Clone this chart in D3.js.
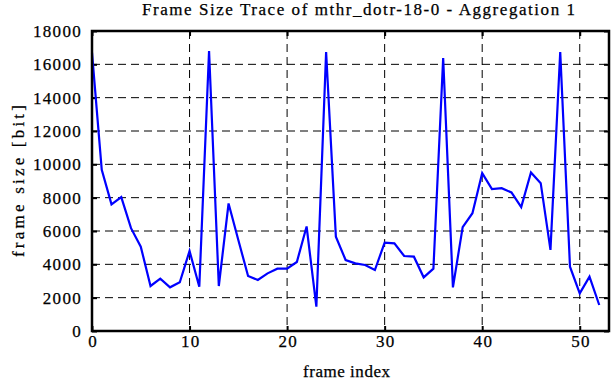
<!DOCTYPE html>
<html>
<head>
<meta charset="utf-8">
<script src="https://cdn.jsdelivr.net/npm/d3@7"></script>
<style>
  body { margin: 0; background: #fff; }
  text { font-family: "Liberation Serif", "DejaVu Serif", serif; fill: #000; stroke: #000; stroke-width: 0.25px; }
</style>
</head>
<body>
<svg width="612" height="382"></svg>
<script>
// frame sizes, one per frame index
const frameSizes = [
  16700, 9670, 7600, 8030, 6170, 5060, 2700, 3140, 2620, 2920,
  4800, 2660, 16800, 2700, 7650, 5460, 3300, 3060, 3460, 3740,
  3740, 4140, 6270, 1460, 16740, 5660, 4260, 4060, 3960, 3660,
  5300, 5260, 4500, 4460, 3220, 3740, 16380, 2620, 6230, 7070,
  9470, 8510, 8570, 8310, 7430, 9510, 8870, 4870, 16740, 3860,
  2260, 3260, 1560
];
const xTicks = [0, 10, 20, 30, 40, 50];
const yTicks = [0, 2000, 4000, 6000, 8000, 10000, 12000, 14000, 16000, 18000];

const svg = d3.select('svg');
const mLeft = 92, mRight = 609, mTop = 31, mBottom = 331;

const x = d3.scaleLinear().domain([0, 53]).range([mLeft, mRight]);
const y = d3.scaleLinear().domain([0, 18000]).range([mBottom, mTop]);

// dashed grid
svg.selectAll('.vgrid')
  .data(xTicks.filter(d => d > 0))
  .enter().append('line')
  .attr('x1', d => x(d)).attr('x2', d => x(d))
  .attr('y1', mTop).attr('y2', mBottom)
  .attr('stroke', '#000').attr('stroke-width', 1)
  .attr('stroke-dasharray', '8,5');

svg.selectAll('.hgrid')
  .data(yTicks.filter(d => d > 0 && d < 18000))
  .enter().append('line')
  .attr('x1', mLeft).attr('x2', mRight)
  .attr('y1', d => y(d)).attr('y2', d => y(d))
  .attr('stroke', '#000').attr('stroke-width', 1)
  .attr('stroke-dasharray', '8,5');

// axes with inward ticks
const fmt = d3.format('d');
const xAxis = svg.append('g').attr('transform', `translate(0,${mBottom})`)
  .call(d3.axisBottom(x).tickValues(xTicks).tickFormat(fmt).tickSize(-5).tickPadding(4));
const xTop = svg.append('g').attr('transform', `translate(0,${mTop})`)
  .call(d3.axisTop(x).tickValues(xTicks).tickSize(-5).tickFormat(''));
const yAxis = svg.append('g').attr('transform', `translate(${mLeft},0)`)
  .call(d3.axisLeft(y).tickValues(yTicks).tickFormat(fmt).tickSize(-5).tickPadding(10));
const yRight = svg.append('g').attr('transform', `translate(${mRight},0)`)
  .call(d3.axisRight(y).tickValues(yTicks).tickSize(-5).tickFormat(''));

[xAxis, xTop, yAxis, yRight].forEach(g => {
  g.attr('font-family', null).attr('font-size', null);
  g.select('.domain').remove();
  g.selectAll('line').attr('stroke', '#000').attr('stroke-width', 2);
  g.selectAll('text').attr('fill', '#000')
    .style('font-size', '17px').style('letter-spacing', '1.3px');
});
xAxis.selectAll('text').attr('dx', '0.7px');

// trace
const line = d3.line().x((d, i) => x(i)).y(d => y(d));
svg.append('path')
  .datum(frameSizes)
  .attr('d', line)
  .attr('fill', 'none')
  .attr('stroke', '#0000ff')
  .attr('stroke-width', 2.2)
  .attr('stroke-linejoin', 'miter');

// frame
svg.append('rect')
  .attr('x', mLeft).attr('y', mTop)
  .attr('width', mRight - mLeft).attr('height', mBottom - mTop)
  .attr('fill', 'none').attr('stroke', '#000').attr('stroke-width', 2.5);

svg.append('text')
  .attr('x', 142).attr('y', 15)
  .attr('textLength', 433).attr('lengthAdjust', 'spacing')
  .style('font-size', '17px')
  .text('Frame Size Trace of mthr_dotr-18-0 - Aggregation 1');

svg.append('text')
  .attr('x', 303).attr('y', 377)
  .attr('textLength', 87).attr('lengthAdjust', 'spacing')
  .style('font-size', '17px')
  .text('frame index');

svg.append('text')
  .attr('transform', 'translate(24,257) rotate(-90)')
  .attr('textLength', 152).attr('lengthAdjust', 'spacing')
  .style('font-size', '17px')
  .text('frame size [bit]');
</script>
</body>
</html>
